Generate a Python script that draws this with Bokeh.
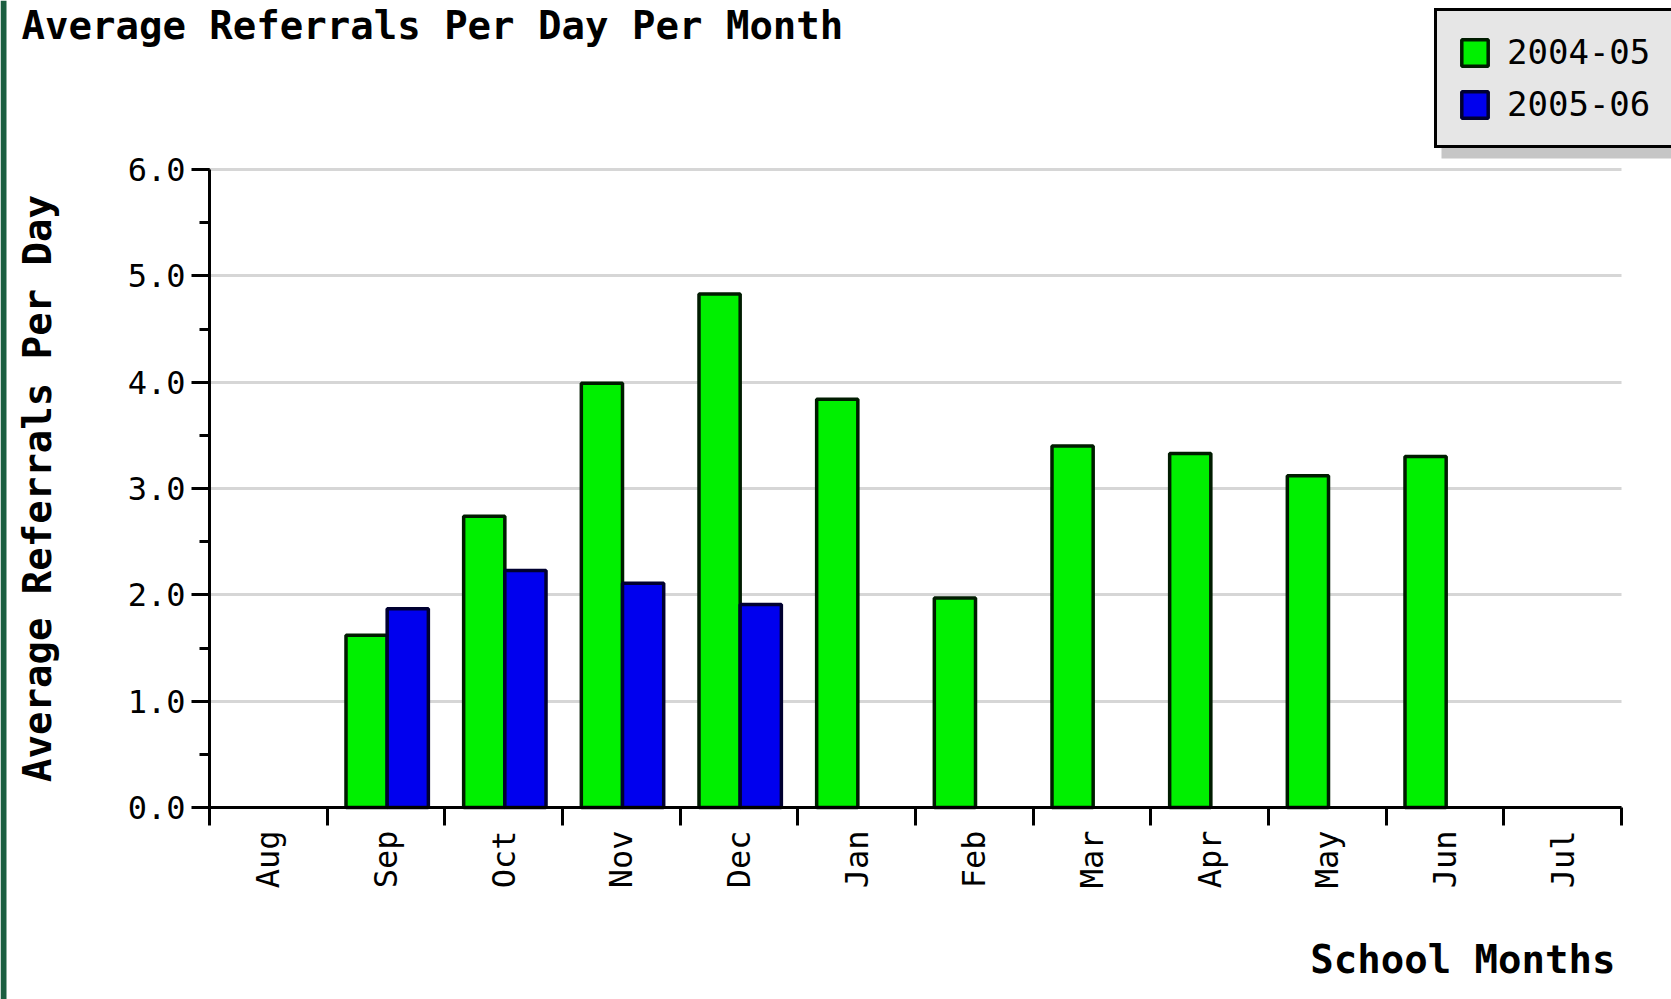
import math
from bokeh.plotting import figure
from bokeh.models import (Range1d, FixedTicker, SingleIntervalTicker, Legend, LegendItem,
                          Label, ColumnDataSource, PrintfTickFormatter, BoxAnnotation)
from bokeh.transform import dodge
from bokeh.embed import file_html
from bokeh.resources import INLINE

# ---- data ----
months = ["Aug", "Sep", "Oct", "Nov", "Dec", "Jan", "Feb", "Mar", "Apr", "May", "Jun", "Jul"]
series_names = ["2004-05", "2005-06"]
refs_2004_05 = [None, 1.62, 2.74, 3.99, 4.83, 3.84, 1.97, 3.40, 3.33, 3.12, 3.30, None]
refs_2005_06 = [None, 1.87, 2.23, 2.11, 1.91, None, None, None, None, None, None, None]
y_max = 6

title_text = "Average Referrals Per Day Per Month"
y_title = "Average Referrals Per Day"
x_title = "School Months"

MONO = "DejaVu Sans Mono"

# ---- page geometry (pixels) ----
W, H = 1671, 999
AX_LEFT, AX_RIGHT, AX_TOP, AX_BOTTOM = 209, 1621, 169, 807

n = len(months)
px_x = (AX_RIGHT - AX_LEFT) / n
px_y = (AX_BOTTOM - AX_TOP) / y_max

# category slot i occupies [i, i+1] on the x scale; its centre is i + 0.5
centres = [i + 0.5 for i in range(n)]
bounds = list(range(n + 1))

src_a = ColumnDataSource(dict(
    pos=[c for c, v in zip(centres, refs_2004_05) if v is not None],
    value=[v for v in refs_2004_05 if v is not None]))
src_b = ColumnDataSource(dict(
    pos=[c for c, v in zip(centres, refs_2005_06) if v is not None],
    value=[v for v in refs_2005_06 if v is not None]))

p = figure(width=W, height=H,
           x_range=Range1d(-AX_LEFT / px_x, n + (W - AX_RIGHT) / px_x),
           y_range=Range1d(-(H - AX_BOTTOM) / px_y, y_max + AX_TOP / px_y),
           x_axis_location="below", y_axis_location="left",
           output_backend="svg", toolbar_location=None,
           min_border=0, min_border_left=0, min_border_right=0,
           min_border_top=0, min_border_bottom=0,
           background_fill_color="white", border_fill_color="white")
p.outline_line_color = None
p.xgrid.visible = False

# frame decorations of the original image
p.add_layout(BoxAnnotation(left=0, right=6, left_units="screen", right_units="screen",
                           fill_color="#1b5e40", fill_alpha=1.0, line_color=None))
p.add_layout(BoxAnnotation(left=1441, right=1674, bottom=H - 158, top=H - 20,
                           left_units="screen", right_units="screen",
                           bottom_units="screen", top_units="screen",
                           fill_color="#c6c6c6", fill_alpha=1.0, line_color=None))

rg = p.vbar(x=dodge("pos", -0.165), top="value", width=0.35, bottom=0,
            source=src_a, fill_color="#00f000", line_color="#001c00", line_width=3.5)
rb = p.vbar(x=dodge("pos", 0.185), top="value", width=0.35, bottom=0,
            source=src_b, fill_color="#0000ee", line_color="#000030", line_width=3.5)

# y axis
ya = p.yaxis[0]
ya.fixed_location = 0
ya.bounds = (0, y_max)
ya.ticker = SingleIntervalTicker(interval=1, num_minor_ticks=2)
ya.formatter = PrintfTickFormatter(format="%.1f")
ya.axis_line_width = 3
ya.axis_line_color = "black"
ya.major_tick_in = 0
ya.major_tick_out = 18
ya.major_tick_line_width = 3
ya.minor_tick_in = 0
ya.minor_tick_out = 10
ya.minor_tick_line_width = 3
ya.major_label_standoff = 6
ya.major_label_text_font = MONO
ya.major_label_text_font_size = "32px"
ya.major_label_text_color = "black"
ya.axis_label = y_title
ya.axis_label_text_font = MONO
ya.axis_label_text_font_style = "bold"
ya.axis_label_text_font_size = "39px"
ya.axis_label_text_color = "black"
ya.axis_label_standoff = 65

yg = p.ygrid[0]
yg.grid_line_color = "#d6d6d6"
yg.grid_line_width = 3
yg.ticker = ya.ticker
yg.bounds = (0, y_max)
if "cross_bounds" in yg.properties():
    yg.cross_bounds = (0, n)

# x axis: month labels at slot centres, tick marks at slot boundaries
xa = p.xaxis[0]
xa.fixed_location = 0
xa.bounds = (0, n)
xa.ticker = FixedTicker(ticks=centres, minor_ticks=bounds)
xa.major_label_overrides = {c: m for c, m in zip(centres, months)}
xa.axis_line_width = 3
xa.axis_line_color = "black"
xa.major_tick_line_color = None
xa.major_tick_in = 0
xa.major_tick_out = 18
xa.minor_tick_in = 0
xa.minor_tick_out = 18
xa.minor_tick_line_width = 3
xa.minor_tick_line_color = "black"
xa.major_label_orientation = math.pi / 2
xa.major_label_standoff = 5
xa.major_label_text_font = MONO
xa.major_label_text_font_size = "32px"
xa.major_label_text_color = "black"

# titles
p.add_layout(Label(x=21, y=H - 25, x_units="screen", y_units="screen", text=title_text,
                   text_font=MONO, text_font_style="bold", text_font_size="39px",
                   text_baseline="alphabetic", text_align="left", text_color="black"))
p.add_layout(Label(x=1615, y=H - 959, x_units="screen", y_units="screen", text=x_title,
                   text_font=MONO, text_font_style="bold", text_font_size="39px",
                   text_baseline="alphabetic", text_align="right", text_color="black"))

legend = Legend(items=[LegendItem(label=series_names[0], renderers=[rg]),
                       LegendItem(label=series_names[1], renderers=[rb])],
                location=(1434, H - 148), orientation="vertical",
                background_fill_color="#e6e6e6", background_fill_alpha=1.0,
                border_line_color="black", border_line_width=3, border_line_alpha=1.0,
                padding=21, spacing=12, margin=0,
                glyph_width=33, glyph_height=33, label_standoff=16, label_width=143,
                label_text_font=MONO, label_text_font_size="34px",
                label_text_color="black")
p.add_layout(legend, "center")

open("out.html", "w").write(file_html(p, INLINE))
